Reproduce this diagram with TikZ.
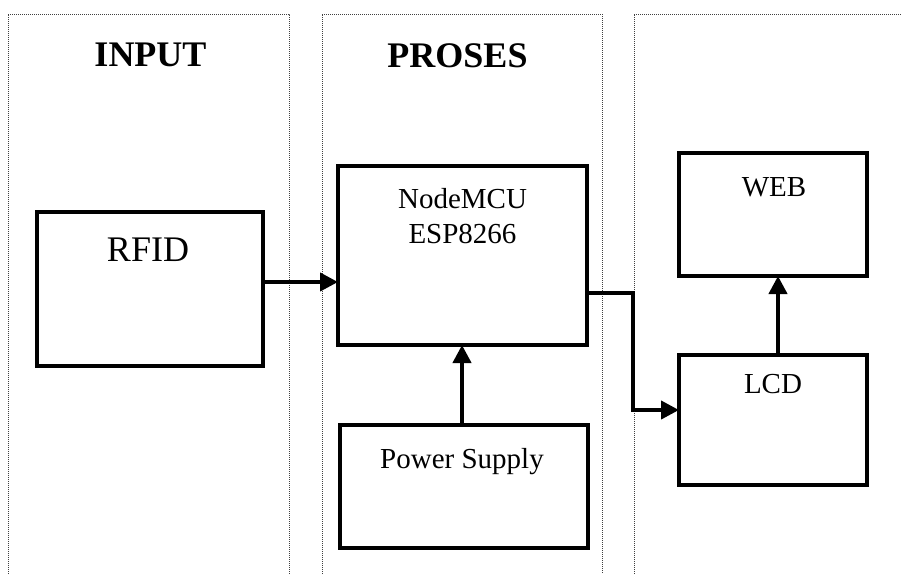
\documentclass[tikz,border=0pt]{standalone}
\usepackage{fontspec}
\setmainfont{Liberation Serif}
\usetikzlibrary{arrows.meta}
\tikzset{
  column/.style={draw=black!75, line width=1pt, dash pattern=on 1pt off 1pt},
  blockbox/.style={draw=black, line width=4pt, inner sep=0pt, outer sep=0pt, rectangle},
  conn/.style={draw=black, line width=4pt, -{Triangle[length=18pt,width=18pt]}},
  heading/.style={anchor=base, inner sep=0pt, font=\fontsize{36}{40}\selectfont\bfseries},
  bigtext/.style={anchor=base, inner sep=0pt, font=\fontsize{36}{40}\selectfont},
  boxtext/.style={anchor=base, inner sep=0pt, font=\fontsize{29}{34}\selectfont}
}
\begin{document}
\begin{tikzpicture}[x=1pt,y=-1pt]
\useasboundingbox (0,0) rectangle (901,574);
% column frames
\draw[column] (8,574) -- (8,14) -- (289,14) -- (289,574);
\draw[column] (322,574) -- (322,14) -- (602,14) -- (602,574);
\draw[column] (634,574) -- (634,14) -- (901,14);
% headings
\node[heading] (hin) at (150.5,66) {INPUT};
\node[heading] (hpro) at (457.5,67) {PROSES};
% boxes
\node[blockbox, minimum width=226pt, minimum height=154pt] (rfid) at (150,289) {};
\node[blockbox, minimum width=249pt, minimum height=179pt] (mcu) at (462.5,255.5) {};
\node[blockbox, minimum width=248pt, minimum height=123pt] (power) at (464,486.5) {};
\node[blockbox, minimum width=188pt, minimum height=123pt] (web) at (773,214.5) {};
\node[blockbox, minimum width=188pt, minimum height=130pt] (lcd) at (773,420) {};
% box texts
\node[bigtext] (trfid) at (148,261) {RFID};
\node[boxtext] (tmcu1) at (462.5,208) {NodeMCU};
\node[boxtext] (tmcu2) at (462.5,243) {ESP8266};
\node[boxtext] (tpower) at (462,468) {Power Supply};
\node[boxtext] (tweb) at (774,196) {WEB};
\node[boxtext] (tlcd) at (773,393) {LCD};
% connectors
\coordinate (bend) at (633,410);
\draw[conn] (rfid.east |- 0,282) -- (mcu.west |- 0,282);
\draw[conn] (power.north -| 462,0) -- (mcu.south -| 462,0);
\draw[conn] (mcu.east |- 0,293) -| (bend) -- (lcd.west |- bend);
\draw[conn] (lcd.north -| 778,0) -- (web.south -| 778,0);
\end{tikzpicture}
\end{document}
